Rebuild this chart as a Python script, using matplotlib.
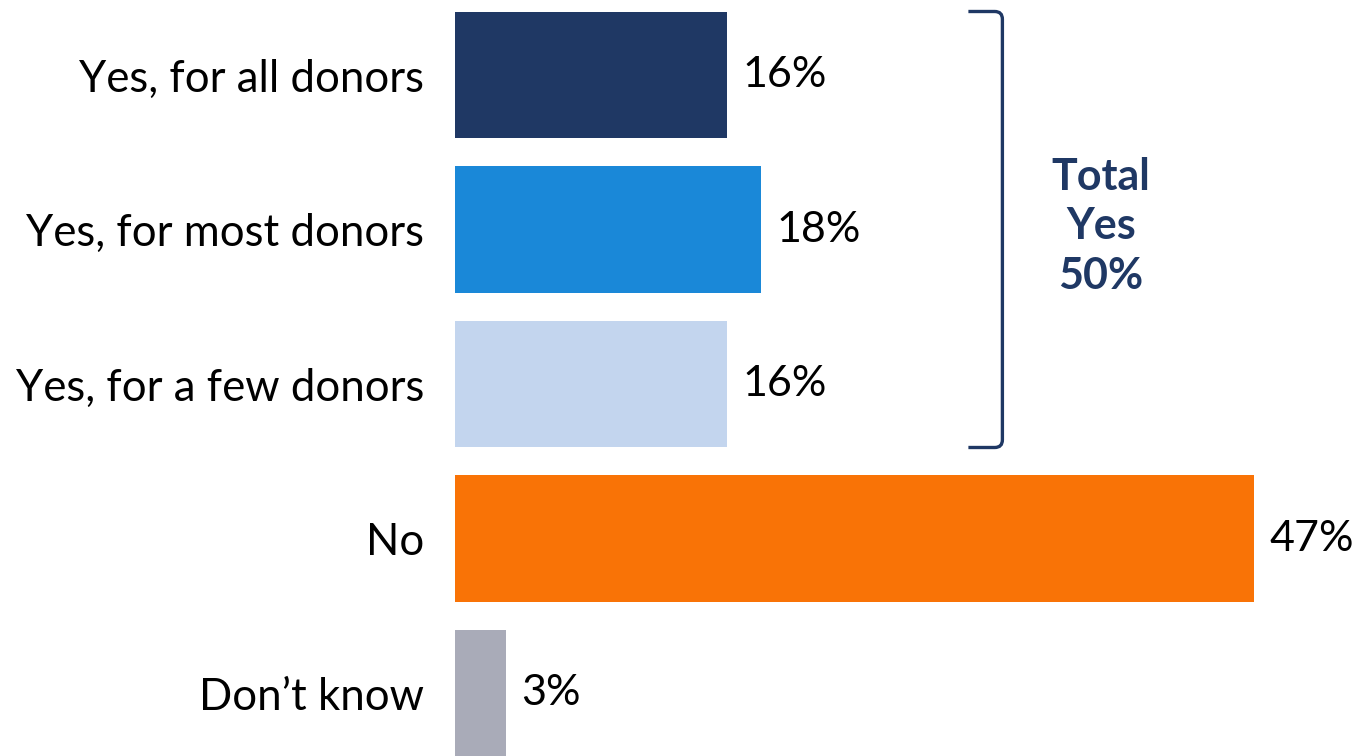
import matplotlib.pyplot as plt
from matplotlib.path import Path
from matplotlib.patches import PathPatch

categories = ['Yes, for all donors', 'Yes, for most donors', 'Yes, for a few donors', 'No', 'Don\u2019t know']
values = [16, 18, 16, 47, 3]
colors = ['#1F3864', '#1A88D8', '#C3D5EE', '#F97306', '#A9ABB8']
total_yes = sum(values[:3])  # 50

plt.rcParams['font.family'] = ['Lato', 'DejaVu Sans']

fig = plt.figure(figsize=(13.54, 7.56), dpi=100)
W, H = 1354, 756
ax = fig.add_axes([455 / W, 0, 1 - 455 / W, 1])

bar_h = 0.822
y = range(len(categories))
ax.barh(y, values, height=bar_h, color=colors)
ax.set_xlim(0, (W - 455) / 17)
ax.set_ylim(4 + 63 / 154.5, -75 / 154.5)

for i, v in enumerate(values):
    ax.text(v + 0.9, i, f'{v}%', va='center', ha='left', fontsize=31, color='black')

ax.set_yticks(list(y))
ax.set_yticklabels(categories, fontsize=31.5)
ax.tick_params(axis='y', length=0, pad=22)
ax.set_xticks([])
for s in ax.spines.values():
    s.set_visible(False)

# bracket around the three "yes" bars
x0, x1, r = 30.2, 32.2, 0.45
top, bot = -bar_h / 2, 2 + bar_h / 2
verts = [(x0, top), (x1 - r, top), (x1, top), (x1, top + 0.05),
         (x1, bot - 0.05), (x1, bot), (x1 - r, bot), (x0, bot)]
codes = [Path.MOVETO, Path.LINETO, Path.CURVE3, Path.CURVE3,
         Path.LINETO, Path.CURVE3, Path.CURVE3, Path.LINETO]
ax.add_patch(PathPatch(Path(verts, codes), fill=False, lw=2.4,
                       edgecolor='#1F3864', capstyle='butt', clip_on=False))

ax.text((1101 - 455) / 17, 1 - 0.02, f'Total\nYes\n{total_yes}%', ha='center', va='center',
        fontsize=31, fontweight='bold', color='#1F3864', linespacing=1.3)

fig.savefig('out.png', dpi=100)
